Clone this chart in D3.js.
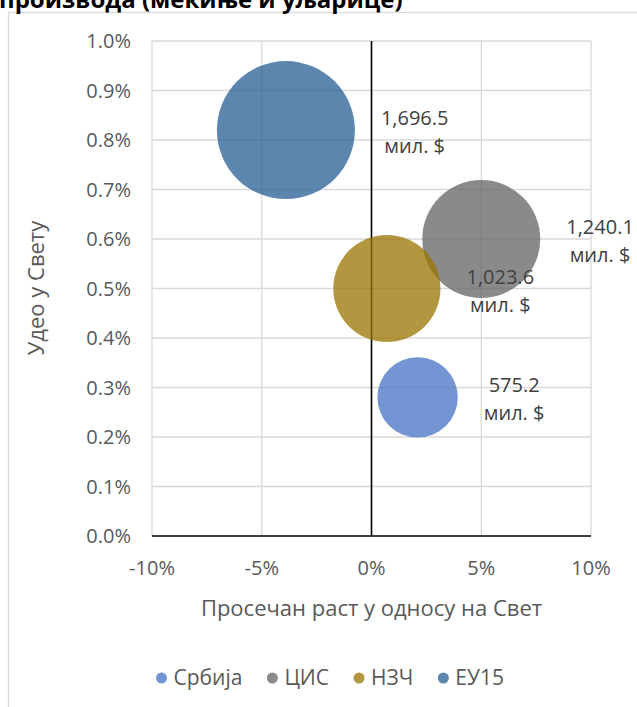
<!DOCTYPE html>
<html>
<head>
    <meta charset="utf-8">
    <title>Удео у Свету</title>
    <script src="https://d3js.org/d3.v7.min.js"></script>
    <style>
        body { margin: 0; background: #ffffff; }
        text { font-family: "Open Sans", "Noto Sans", sans-serif; }
        .grid line { stroke: #d9d9d9; stroke-width: 1.3px; }
        .tick_label { fill: #595959; font-size: 20px; }
        .axis_title { fill: #595959; font-size: 22px; }
        .bubble_label { fill: #404040; font-size: 20px; }
        .legend_text { fill: #595959; font-size: 21px; }
    </style>
</head>
<body>
<div id="svg_container"></div>
<script>
    // chart data
    const regions = ["Србија", "ЦИС", "НЗЧ", "ЕУ15"];
    const avg_growth = [0.021, 0.050, 0.007, -0.039];
    const world_share = [0.0028, 0.0060, 0.0050, 0.0082];
    const export_value = [575.2, 1240.1, 1023.6, 1696.5];
    const colors = ["#4472c4", "#636363", "#997300", "#255e91"];

    const x_ticks = [-0.10, -0.05, 0, 0.05, 0.10];
    const y_ticks = [0, 0.001, 0.002, 0.003, 0.004, 0.005, 0.006, 0.007, 0.008, 0.009, 0.010];

    const width = 637;
    const height = 707;

    const svg = d3.select("#svg_container")
        .append("svg")
        .attr("width", width)
        .attr("height", height);

    // chart frame (runs past the right and bottom edge of the picture)
    svg.append("rect")
        .attr("x", 8.5)
        .attr("y", 12.5)
        .attr("width", 700)
        .attr("height", 760)
        .attr("fill", "none")
        .attr("stroke", "#d9d9d9")
        .attr("stroke-width", 1.3);

    // title, cut off at the top like in the source
    svg.append("text")
        .attr("x", -1)
        .attr("y", 8)
        .attr("font-size", "24px")
        .attr("font-weight", "bold")
        .attr("fill", "#000000")
        .text("производа (мекиње и уљарице)");

    const x = d3.scaleLinear().domain([-0.10, 0.10]).range([152, 591]);
    const y = d3.scaleLinear().domain([0, 0.010]).range([536, 41]);
    const r = d3.scaleSqrt().domain([0, d3.max(export_value)]).range([0, 69]);

    const pct0 = d => d3.format(".0%")(d).replace("−", "-");
    const pct1 = d => d3.format(".1%")(d);

    // grid
    const grid = svg.append("g").attr("class", "grid");
    grid.selectAll(".hgrid")
        .data(y_ticks.filter(d => d > 0))
        .enter()
        .append("line")
        .attr("x1", x(-0.10))
        .attr("x2", x(0.10))
        .attr("y1", d => y(d))
        .attr("y2", d => y(d));
    grid.selectAll(".vgrid")
        .data(x_ticks.filter(d => d !== 0))
        .enter()
        .append("line")
        .attr("x1", d => x(d))
        .attr("x2", d => x(d))
        .attr("y1", y(0))
        .attr("y2", y(0.010));

    // axes lines
    svg.append("line")
        .attr("x1", x(-0.10)).attr("x2", x(0.10))
        .attr("y1", y(0)).attr("y2", y(0))
        .attr("stroke", "#000000").attr("stroke-width", 1.6);
    svg.append("line")
        .attr("x1", x(0)).attr("x2", x(0))
        .attr("y1", y(0)).attr("y2", y(0.010))
        .attr("stroke", "#000000").attr("stroke-width", 1.6);

    // tick labels
    svg.selectAll(".ylab")
        .data(y_ticks)
        .enter()
        .append("text")
        .attr("class", "tick_label")
        .attr("x", 131)
        .attr("y", d => y(d))
        .attr("dy", "0.35em")
        .attr("text-anchor", "end")
        .text(pct1);

    svg.selectAll(".xlab")
        .data(x_ticks)
        .enter()
        .append("text")
        .attr("class", "tick_label")
        .attr("x", d => x(d))
        .attr("y", 568)
        .attr("dy", "0.35em")
        .attr("text-anchor", "middle")
        .text(pct0);

    // axis titles
    svg.append("text")
        .attr("class", "axis_title")
        .attr("x", (x(-0.10) + x(0.10)) / 2)
        .attr("y", 608)
        .attr("dy", "0.35em")
        .attr("text-anchor", "middle")
        .text("Просечан раст у односу на Свет");

    svg.append("text")
        .attr("class", "axis_title")
        .attr("transform", "translate(36," + 288 + ") rotate(-90)")
        .attr("dy", "0.35em")
        .attr("text-anchor", "middle")
        .text("Удео у Свету");

    // bubbles, biggest first
    const points = regions.map((name, i) => ({
        name: name,
        gx: avg_growth[i],
        sy: world_share[i],
        value: export_value[i],
        color: colors[i]
    }));
    const draw_order = points.slice().sort((a, b) => b.value - a.value);

    svg.selectAll(".bubble")
        .data(draw_order)
        .enter()
        .append("circle")
        .attr("cx", d => x(d.gx))
        .attr("cy", d => y(d.sy))
        .attr("r", d => r(d.value))
        .attr("fill", d => d.color)
        .attr("fill-opacity", 0.75);

    // labels to the right of each bubble
    const label_gap = 26;
    draw_order.forEach(d => {
        const g = svg.append("g");
        const t1 = g.append("text").attr("class", "bubble_label")
            .attr("text-anchor", "middle")
            .text(d3.format(",.1f")(d.value));
        const t2 = g.append("text").attr("class", "bubble_label")
            .attr("text-anchor", "middle")
            .text("мил. $");
        const block_w = Math.max(t1.node().getComputedTextLength(), t2.node().getComputedTextLength());
        const cx = x(d.gx) + r(d.value) + label_gap + block_w / 2;
        const cy = y(d.sy);
        t1.attr("x", cx).attr("y", cy - 5);
        t2.attr("x", cx).attr("y", cy + 23);
    });

    // legend
    const legend = svg.append("g");
    let lx = 0;
    points.forEach(d => {
        legend.append("circle")
            .attr("cx", lx)
            .attr("cy", 0)
            .attr("r", 5.5)
            .attr("fill", d.color)
            .attr("fill-opacity", 0.75);
        const t = legend.append("text")
            .attr("class", "legend_text")
            .attr("x", lx + 12)
            .attr("y", 0)
            .attr("dy", "0.35em")
            .text(d.name);
        lx += 12 + t.node().getComputedTextLength() + 30;
    });
    const legend_w = lx - 30 + 5.5;
    legend.attr("transform", "translate(" + (330 - legend_w / 2 + 5.5) + ",678)");
</script>
</body>
</html>
